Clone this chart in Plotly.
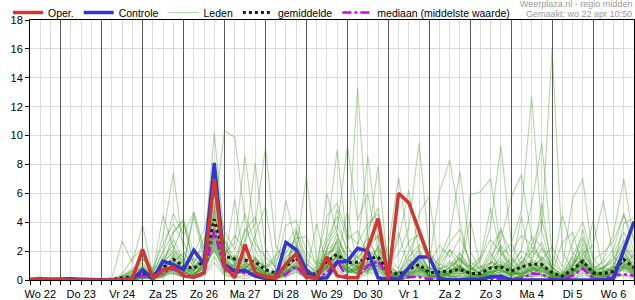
import plotly.graph_objects as go
from datetime import datetime, timedelta

# ---------------- data (6-hourly, from Wo 22 apr 06:00) ----------------
START = datetime(2020, 4, 22, 6)
N_STEPS = 60
DAY_LABELS = ["Wo 22", "Do 23", "Vr 24", "Za 25", "Zo 26", "Ma 27", "Di 28", "Wo 29",
              "Do 30", "Vr 1", "Za 2", "Zo 3", "Ma 4", "Di 5", "Wo 6"]

OPER = [0.05, 0.1, 0.05,
        0, 0, 0, 0,
        0, 0, 0, 0.1,
        2.1, 0.1, 0.7, 0.9,
        0.3, 0.2, 0.5, 7.0,
        1.0, 0.15, 2.45, 0.5,
        0.2, 0.15, 1.1, 1.8,
        0.2, 0.1, 1.6, 0.3,
        0.15, 0.15, 2.2, 4.25,
        0.05, 6.0, 5.35, 3.5,
        1.5]

CONTROLE = [0.02, 0.03, 0.05,
            0.1, 0.08, 0.05, 0.02,
            0, 0, 0, 0.05,
            0.7, 0.05, 1.3, 1.07,
            0.7, 2.06, 1.1, 8.1,
            1.07, 0.6, 0.68, 0.27,
            0.1, 0.15, 2.6, 2.1,
            0.7, 0.1, 0.15, 1.23,
            1.3, 2.2, 2.0, 0.15,
            0.05, 0.05, 0.85, 1.6,
            1.6, 0.1, 0, 0,
            0, 0.05, 0.2, 0.25,
            0, 0, 0, 0,
            0, 0, 0, 0,
            0, 0, 0.1, 2.0,
            4.05]

GEMIDDELDE = [0.03, 0.04, 0.03,
              0.03, 0.03, 0.02, 0.02,
              0.02, 0.05, 0.15, 0.25,
              0.5, 0.3, 0.85, 1.45,
              0.95, 0.8, 1.3, 4.2,
              1.65, 1.45, 1.37, 1.25,
              0.7, 0.5, 0.96, 1.54,
              0.5, 0.38, 1.3, 1.77,
              1.2, 1.23, 1.47, 1.6,
              0.6, 0.38, 0.73, 1.07,
              0.5, 0.54, 0.6, 0.73,
              0.45, 0.45, 0.85, 0.9,
              0.6, 0.9, 1.1, 1.07,
              0.5, 0.27, 0.73, 1.3,
              0.5, 0.45, 0.6, 1.42,
              0.85]

MEDIAAN = [0, 0, 0,
           0, 0, 0, 0,
           0, 0, 0.05, 0.1,
           0.3, 0.1, 0.55, 0.75,
           0.4, 0.2, 0.4, 3.4,
           0.7, 0.6, 0.45, 0.35,
           0.1, 0.15, 0.4, 0.95,
           0.2, 0.1, 0.5, 1.3,
           0.15, 0.2, 1.0, 1.3,
           0.25, 0.05, 0.2, 0.2,
           0.05, 0.05, 0.05, 0.05,
           0.05, 0.05, 0.1, 0.1,
           0.05, 0.1, 0.45, 0.4,
           0.05, 0.05, 0.3, 0.8,
           0.1, 0.05, 0.35, 0.4,
           0.3]

LEDEN = [
    [0,0,0, 0,0,0,0, 0,0.1,2.7,1.2, 3.8,0.3,1.0,0.8, 0.5,0.9,1.4,5.2, 1.5,0.8,1.0,0.6, 0.2,0.1,0.6,1.2, 0.3,0.2,0.9,2.1, 0.5,0.8,1.6,1.9, 0.4,0.1,0.3,0.9, 0.2,0.3,0.5,1.1, 0.3,0.1,0.6,0.5, 0.2,0.8,0.4,0.9, 0.1,0,0.4,1.6, 0.3,0.2,0.5,2.0, 0.6],
    [0,0,0, 0,0,0,0, 0,0,0.3,0.8, 1.2,0.5,3.1,7.4, 2.0,0.9,1.8,6.1, 2.2,1.3,0.7,0.4, 0.1,0.2,0.8,2.0, 0.4,0.1,1.5,3.2, 1.0,1.6,0.8,2.4, 0.2,0,0.2,0.4, 0.1,0.6,0.3,0.2, 0.1,0.2,1.3,0.8, 1.1,0.4,0.2,0.6, 0.3,0.1,0,0.5, 0.2,0.1,0.3,0.8, 0.4],
    [0,0,0, 0,0,0,0, 0,0,0,0.2, 0.6,0.1,0.4,1.1, 0.9,0.6,2.0,10.2, 2.8,1.1,0.5,0.9, 0.6,0.3,1.2,0.7, 0.1,0.2,2.1,2.6, 0.8,0.4,0.6,1.0, 0.3,0.5,1.4,0.8, 0.6,0.2,0.1,0.4, 0.7,1.0,0.5,0.2, 0.1,0.3,0.8,2.2, 0.6,0.2,0.9,3.5, 0.4,0.1,0.2,1.1, 0.9],
    [0,0,0, 0,0,0,0, 0,0,0,0.1, 0.4,0.2,0.8,0.5, 0.2,0.4,1.1,4.6, 10.3,9.9,4.2,1.3, 0.4,0.2,0.3,0.9, 0.2,0,0.5,1.4, 0.6,0.9,2.4,3.1, 0.8,0.3,0.5,1.2, 0.3,0.1,0.4,0.9, 0.4,0.2,0.8,1.5, 0.6,0.3,1.0,0.4, 0.2,0.1,0.6,1.1, 0.3,0.5,0.8,1.6, 0.5],
    [0,0,0, 0,0,0,0, 0,0,0.2,0.5, 1.6,0.4,1.2,2.8, 1.4,0.7,1.0,3.4, 1.8,2.6,8.6,3.0, 0.7,0.4,1.0,1.8, 0.3,0.6,1.9,2.3, 0.9,0.5,1.1,0.7, 0.2,0.1,0.6,1.5, 0.2,0.4,1.2,0.6, 0.2,0.3,0.4,1.0, 0.5,1.6,0.9,0.5, 0.1,0.3,1.4,0.8, 0.2,0.6,1.0,2.4, 0.7],
    [0,0,0, 0,0,0,0, 0,0,0,0, 0.3,0.6,1.5,2.1, 3.9,1.2,2.4,6.8, 1.2,0.9,2.3,8.1, 2.2,0.8,0.4,1.0, 0.5,0.2,0.7,1.6, 1.4,0.6,0.9,1.2, 0.5,0.2,0.1,0.3, 0.1,0.2,0.5,1.3, 0.8,0.4,0.3,0.6, 0.4,0.7,1.3,0.8, 0.3,0.1,0.5,0.9, 0.6,0.4,0.3,0.9, 1.8],
    [0,0,0, 0,0,0,0, 0,0,0.1,0.3, 0.5,0.2,0.6,1.8, 1.1,4.4,1.5,3.0, 1.9,1.2,2.8,3.9, 9.2,2.4,1.1,0.8, 0.2,0.4,1.6,1.1, 0.7,1.8,2.9,1.4, 0.6,0.4,0.9,1.7, 0.5,0.8,0.3,0.1, 0.2,0.5,1.9,0.7, 0.3,0.5,0.6,1.2, 0.4,0.2,0.8,2.5, 0.5,0.3,0.9,0.6, 0.4],
    [0,0,0, 0,0,0,0, 0,0,0,0.4, 0.9,0.1,0.5,0.9, 0.7,0.3,0.9,4.0, 1.3,1.6,0.8,1.4, 0.9,1.7,2.5,1.9, 7.2,1.3,0.8,2.9, 1.7,1.0,0.6,1.8, 0.3,0.1,0.4,0.6, 0.9,0.5,0.2,0.5, 0.1,0.3,0.6,2.3, 0.8,0.2,0.5,0.7, 0.2,0.4,1.6,0.9, 0.2,0.1,0.7,1.2, 0.3],
    [0,0,0, 0,0,0,0, 0,0,0,0.1, 0.2,0.5,0.3,0.7, 0.4,0.8,1.3,2.6, 0.9,0.5,1.8,1.1, 0.3,0.6,1.4,2.7, 0.6,0.9,3.1,9.0, 2.4,1.2,0.8,1.5, 0.4,0.2,1.0,2.2, 0.6,0.3,0.7,1.0, 0.5,0.9,0.2,0.4, 0.3,1.1,2.0,1.4, 0.6,0.3,0.4,1.8, 0.9,0.5,0.3,1.3, 0.6],
    [0,0,0, 0,0,0,0, 0,0,0,0, 0.4,0.1,0.2,1.3, 0.8,0.5,0.7,3.6, 1.0,0.6,0.9,0.5, 0.2,0.1,0.9,3.3, 1.2,0.4,2.2,3.5, 9.3,4.1,6.0,2.0, 0.9,0.5,1.1,0.8, 0.4,0.2,0.9,1.6, 0.5,0.2,0.4,0.8, 1.5,0.6,0.3,0.9, 0.5,0.2,0.7,0.6, 0.4,0.9,1.2,0.8, 1.0],
    [0,0,0, 0,0,0,0, 0,0,0,0.2, 0.3,0.2,0.9,0.6, 0.3,0.2,1.4,4.8, 0.7,0.4,0.6,1.2, 0.5,0.3,0.8,1.5, 0.2,0.1,2.8,4.4, 1.9,13.3,3.0,1.3, 0.3,0.1,0.5,0.7, 0.2,0.1,0.3,0.6, 0.4,0.2,0.3,1.1, 0.6,0.4,0.9,0.3, 0.1,0.2,0.5,1.0, 0.4,0.3,0.6,2.1, 0.8],
    [0,0,0, 0,0,0,0, 0,0,0.1,0.3, 0.7,0.3,1.3,1.9, 1.3,0.6,1.7,3.2, 2.1,1.4,1.0,0.6, 0.3,0.5,1.6,2.2, 0.4,0.3,1.2,2.0, 1.0,2.2,8.6,2.7, 0.5,0.3,0.7,1.3, 0.7,0.9,0.5,0.8, 0.3,0.6,1.2,0.9, 0.2,0.3,0.7,1.6, 0.9,0.4,0.3,0.7, 0.5,0.2,0.4,1.5, 1.2],
    [0,0,0, 0,0,0,0, 0,0,0,0, 0.1,0.2,0.5,1.0, 0.6,0.2,0.6,2.3, 0.5,0.8,0.6,0.4, 0.1,0.2,0.6,1.3, 0.5,0.7,1.1,1.6, 0.8,1.4,2.6,7.9, 0.6,0.2,0.3,0.5, 0.3,0.6,0.4,1.8, 0.9,0.3,0.5,0.7, 0.4,1.3,0.8,0.6, 0.2,0.1,0.9,1.4, 0.7,0.4,0.2,0.9, 0.5],
    [0,0,0, 0,0,0,0, 0,0,0.3,0.6, 1.1,0.4,0.8,1.4, 0.9,1.5,0.8,2.9, 1.6,0.9,1.3,0.8, 0.4,0.3,0.5,0.9, 0.3,0.5,1.0,1.3, 0.6,0.9,1.3,1.1, 2.3,7.1,2.4,1.0, 0.4,0.7,1.3,0.9, 0.5,0.3,0.9,0.6, 0.3,0.5,1.1,0.7, 0.4,0.2,0.6,1.0, 0.3,0.8,1.4,2.6, 1.1],
    [0,0,0, 0,0,0,0, 0,0,0,0.1, 0.2,0.1,0.4,0.8, 0.5,0.4,1.0,3.8, 0.6,0.3,0.7,1.5, 0.9,0.4,0.2,0.7, 0.1,0.3,1.3,1.9, 0.7,0.5,0.9,2.3, 1.1,1.8,3.6,9.5, 2.1,0.6,0.4,0.7, 0.2,0.1,0.3,0.5, 0.7,0.9,0.6,1.3, 0.5,0.3,1.1,2.0, 0.2,0.4,0.6,0.9, 0.7],
    [0,0,0, 0,0,0,0, 0,0,0,0.2, 0.5,0.3,0.4,1.2, 1.9,0.9,1.2,2.0, 0.8,1.1,1.5,0.9, 0.3,0.2,0.9,1.7, 0.6,0.2,0.7,1.1, 0.4,0.8,1.2,0.9, 0.2,0.5,1.9,3.4, 1.2,6.1,8.3,4.0, 0.9,0.4,0.3,0.6, 0.5,0.2,0.4,0.9, 0.3,0.1,0.5,1.1, 0.6,0.3,0.2,0.8, 0.3],
    [0,0,0, 0,0,0,0, 0,0,0,0, 0.2,0.1,0.3,0.9, 0.6,0.2,0.5,2.7, 1.2,0.6,0.4,0.9, 0.2,0.1,0.4,0.8, 0.1,0.2,1.7,2.5, 0.9,0.6,1.0,1.4, 0.3,0.2,0.8,1.6, 0.8,1.5,3.2,7.5, 2.0,0.6,0.5,1.2, 0.7,0.4,0.8,1.0, 0.3,0.2,1.0,2.2, 0.6,0.9,0.5,1.3, 0.8],
    [0,0,0, 0,0,0,0, 0,0,0,0.1, 0.3,0.2,0.7,1.5, 0.8,0.4,1.1,3.1, 1.4,0.7,0.5,1.1, 0.6,0.3,1.1,2.4, 0.3,0.1,0.9,1.8, 1.2,0.7,0.5,1.0, 0.4,0.1,0.5,0.9, 0.3,0.2,0.4,0.6, 5.9,6.1,7.0,2.1, 0.6,0.9,1.4,1.1, 0.4,0.2,0.7,1.2, 0.3,0.5,0.8,1.9, 0.6],
    [0,0,0, 0,0,0,0, 0,0,0.1,0.4, 1.0,0.2,1.6,2.4, 1.2,0.5,0.9,2.2, 0.9,1.7,1.2,0.7, 0.2,0.4,0.8,1.4, 0.5,0.3,1.4,2.7, 1.6,0.8,1.3,0.9, 0.2,0.3,0.6,1.1, 0.5,0.8,1.0,1.9, 0.7,1.3,3.8,9.3, 2.6,1.0,0.6,0.8, 0.2,0.1,0.5,1.3, 0.4,0.2,0.6,1.5, 0.9],
    [0,0,0, 0,0,0,0, 0,0,0,0, 0.1,0.2,0.4,0.6, 0.4,0.7,1.4,3.5, 0.7,0.5,0.9,1.3, 0.4,0.2,0.6,0.9, 0.2,0.4,1.1,1.5, 0.5,1.1,1.7,1.2, 0.3,0.2,0.4,0.7, 0.6,0.4,0.9,1.4, 0.8,0.5,1.6,2.8, 5.7,7.3,2.9,1.1, 0.6,0.2,0.4,0.9, 0.5,0.3,1.1,2.3, 1.4],
    [0,0,0, 0,0,0,0, 0,0,0,0.3, 0.6,0.1,0.5,1.7, 1.0,0.3,0.6,2.4, 1.1,0.8,0.7,0.5, 0.2,0.1,0.5,1.2, 0.4,0.6,1.8,2.2, 0.9,0.4,0.7,1.1, 0.5,0.3,0.8,1.4, 0.4,0.2,0.6,1.0, 0.3,0.4,0.7,1.7, 2.5,4.8,12.7,3.4, 0.7,0.3,0.6,1.5, 0.4,0.6,0.9,1.2, 0.5],
    [0,0,0, 0,0,0,0, 0,0,0,0.1, 0.2,0.4,1.0,1.3, 0.7,1.0,1.6,4.3, 2.4,1.0,0.8,1.6, 0.5,0.3,0.7,1.0, 0.2,0.5,0.8,1.2, 1.3,0.9,0.6,1.5, 0.7,0.4,0.3,0.6, 0.2,0.5,0.8,0.7, 0.4,0.6,0.9,1.3, 0.8,2.1,5.2,9.5, 1.8,0.5,0.3,0.8, 0.6,0.4,0.7,1.1, 0.6],
    [0,0,0, 0,0,0,0, 0,0,0,0, 0.1,0.1,0.3,0.8, 0.5,0.3,0.8,3.3, 0.6,0.4,0.5,0.9, 0.3,0.1,0.4,0.8, 0.1,0.2,0.9,1.7, 0.6,0.5,1.2,1.0, 0.2,0.1,0.4,0.8, 0.3,0.4,0.6,0.9, 0.5,0.3,0.6,1.0, 0.4,0.8,1.9,3.7, 16.0,1.9,0.7,1.1, 0.4,0.2,0.5,1.0, 0.7],
    [0,0,0, 0,0,0,0, 0,0,0.2,0.6, 0.8,0.3,1.1,2.0, 1.6,0.6,1.3,3.7, 1.3,0.7,1.6,1.0, 0.5,0.4,1.3,2.0, 0.4,0.3,1.0,1.6, 0.7,1.3,0.8,1.2, 0.4,0.6,0.5,0.9, 0.3,0.2,0.5,0.4, 0.6,0.2,0.4,0.8, 0.3,0.6,1.0,1.4, 2.3,0.9,5.6,7.0, 1.5,0.6,0.4,1.7, 1.0],
    [0,0,0, 0,0,0,0, 0,0,0,0.2, 0.4,0.2,0.6,1.0, 0.6,0.3,1.0,2.8, 0.9,0.6,1.1,0.8, 0.3,0.2,0.7,1.5, 0.4,0.2,0.8,1.3, 0.5,0.7,1.1,0.8, 0.6,0.3,0.2,0.5, 0.8,0.4,0.3,0.5, 0.2,0.4,0.8,1.1, 0.6,0.3,0.7,0.9, 0.5,0.2,1.0,1.8, 2.4,5.5,1.6,0.9, 0.4],
    [0,0,0, 0,0,0,0, 0,0,0,0, 0.3,0.1,0.2,0.5, 0.3,0.2,0.7,2.1, 0.5,0.4,0.6,0.7, 0.2,0.1,0.5,1.1, 0.3,0.1,0.6,1.4, 0.6,0.4,0.8,0.7, 0.2,0.1,0.3,0.6, 0.1,0.3,0.5,0.8, 0.4,0.2,0.5,0.9, 0.5,0.4,0.6,1.0, 0.3,0.2,0.7,1.3, 0.6,1.4,3.2,7.0, 2.6],
    [0,0,0, 0,0,0,0, 0,0,0,0.1, 0.2,0,0.3,0.5, 0.2,0.1,0.4,1.6, 0.4,0.2,0.3,0.4, 0.1,0,0.2,0.6, 0.1,0,0.4,0.8, 0.2,0.3,0.5,0.6, 0.1,0,0.1,0.3, 0.1,0,0.2,0.3, 0.1,0,0.2,0.4, 0.1,0.2,0.3,0.4, 0.1,0,0.2,0.5, 0.1,0,0.1,0.4, 0.2],
    [0,0,0, 0,0,0,0, 0,0,0.4,1.5, 2.2,0.6,1.9,3.3, 4.2,1.8,3.5,5.9, 3.4,2.1,4.6,2.5, 1.6,0.9,3.8,4.1, 2.0,1.1,4.4,5.3, 3.2,2.5,3.9,4.6, 1.5,0.8,2.7,3.1, 1.1,2.4,1.6,2.9, 1.3,0.7,2.2,3.4, 1.9,3.1,2.4,4.2, 1.2,0.5,2.6,4.0, 1.4,1.9,2.7,4.5, 2.8],
    [0,0,0, 0,0,0,0, 0,0,0,0, 0.1,0.3,0.6,0.4, 0.2,0.1,0.3,1.2, 0.3,0.2,0.1,0.3, 0,0.1,0.3,0.5, 0.2,0.1,0.3,0.6, 0.3,0.2,0.4,0.5, 0.1,0,0.2,0.4, 0.2,0.1,0.1,0.3, 0.2,0.1,0.3,0.2, 0.1,0.3,0.2,0.3, 0.1,0,0.1,0.3, 0.2,0.1,0.2,0.3, 0.1],
    [0,0,0, 0,0,0,0, 0,0,0.1,0.5, 1.4,0.8,2.5,3.9, 2.6,1.1,2.9,4.4, 1.7,3.1,2.0,1.5, 0.8,1.3,2.4,3.6, 1.5,0.7,2.6,3.8, 2.1,1.6,2.3,3.0, 0.9,0.5,1.6,2.4, 1.8,1.0,2.1,1.4, 0.6,1.5,2.8,1.9, 1.1,2.0,1.5,2.6, 0.8,0.4,1.7,3.0, 1.0,0.7,1.8,3.3, 1.6],
    [0,0,0, 0,0,0,0, 0,0,0,0.3, 0.9,0.4,2.0,4.6, 3.1,4.7,2.2,5.4, 2.7,1.5,3.3,4.4, 1.2,0.6,1.9,2.9, 3.0,0.9,2.0,4.9, 2.8,3.4,1.7,2.1, 1.2,0.4,0.9,1.9, 0.7,1.3,2.6,3.5, 1.0,0.5,1.1,2.4, 1.6,0.8,3.0,2.3, 0.9,0.3,1.2,2.8, 0.8,1.2,2.1,4.6, 1.9],
    [0,0,0, 0,0,0,0, 0,0,0,0, 0.3,0.1,0.7,1.1, 0.9,0.4,0.8,2.5, 0.8,0.5,1.2,0.9, 0.4,0.2,0.6,1.0, 0.4,0.3,0.9,1.2, 0.6,0.4,0.7,1.3, 0.5,0.2,0.4,0.7, 0.3,0.2,0.4,0.9, 0.5,0.3,0.6,0.7, 0.4,0.5,0.8,0.6, 0.3,0.1,0.5,0.8, 0.4,0.3,0.5,1.0, 0.5],
    [0,0,0, 0,0,0,0, 0,0,0.2,0.7, 1.5,0.6,4.5,2.2, 1.0,4.7,1.9,3.0, 1.4,0.9,3.6,2.1, 0.8,1.5,5.5,2.4, 1.1,0.6,6.0,3.2, 1.3,0.9,2.0,1.6, 1.0,2.8,6.2,2.0, 0.6,1.1,0.8,1.5, 0.9,1.6,5.0,1.8, 0.7,1.2,2.3,1.5, 0.8,4.5,1.9,1.2, 0.6,0.9,1.5,2.8, 1.4],
    [0,0,0, 0,0,0,0, 0,0,0,0.2, 0.8,0.3,1.0,3.3, 4.1,1.0,0.7,4.9, 1.3,5.6,0.9,3.1, 5.1,0.7,0.6,3.4, 0.5,3.9,0.8,1.3, 4.8,0.6,3.5,5.0, 0.4,3.3,0.8,4.6, 5.8,0.5,2.1,0.7, 4.2,0.9,1.2,3.6, 0.8,4.4,1.0,5.3, 0.5,2.6,3.3,0.9, 4.1,0.6,0.8,3.9, 4.3],
]

# ---------------- time axis ----------------
times = [START + timedelta(hours=6 * k) for k in range(N_STEPS)]
t_end = times[-1]
noons = [datetime(2020, 4, 22, 12) + timedelta(days=d) for d in range(len(DAY_LABELS))]
midnights = [datetime(2020, 4, 23) + timedelta(days=d) for d in range(len(DAY_LABELS))]

FONT = "Liberation Sans, Arial, sans-serif"

fig = go.Figure()

# dark midnight lines come from an overlaid axis grid
fig.add_trace(go.Scatter(x=midnights, y=[None] * len(midnights), xaxis="x2",
                         mode="lines", showlegend=False, hoverinfo="skip"))

for k, member in enumerate(LEDEN):
    fig.add_trace(go.Scatter(
        x=times, y=member, mode="lines", name="Leden",
        showlegend=(k == 0), legendrank=3, hoverinfo="skip",
        line=dict(color="rgba(55,150,25,0.38)", width=1.1)))

fig.add_trace(go.Scatter(x=times, y=MEDIAAN, mode="lines",
                         name="mediaan (middelste waarde)", legendrank=5,
                         line=dict(color="#cc00ff", width=2.5, dash="dashdot")))
fig.add_trace(go.Scatter(x=times, y=GEMIDDELDE, mode="lines", name="gemiddelde",
                         legendrank=4,
                         line=dict(color="#1e1e1e", width=3, dash="dot")))
fig.add_trace(go.Scatter(x=times, y=CONTROLE, mode="lines", name="Controle",
                         legendrank=2, line=dict(color="rgb(52,52,212)", width=3.5)))
fig.add_trace(go.Scatter(x=times[:len(OPER)], y=OPER, mode="lines", name="Oper.",
                         legendrank=1, line=dict(color="rgb(212,52,52)", width=3.5)))

fig.update_layout(
    width=635, height=300,
    margin=dict(l=30, r=1, t=20, b=20, autoexpand=False),
    paper_bgcolor="white", plot_bgcolor="white",
    font=dict(family=FONT, size=11, color="black"),
    showlegend=True,
    legend=dict(orientation="h", xref="container", yref="paper",
                x=8 / 635, y=1 + 22 / 260, xanchor="left", yanchor="top",
                bgcolor="rgba(0,0,0,0)", font=dict(size=10.5),
                traceorder="normal"),
    xaxis=dict(type="date", range=[times[0], t_end],
               tickmode="array", tickvals=noons, ticktext=DAY_LABELS,
               showgrid=False, ticks="outside", ticklen=4, tickcolor="black",
               showline=True, linecolor="black", linewidth=1, mirror=True,
               zeroline=False, tickfont=dict(size=11, color="black"),
               minor=dict(tick0="2020-04-22 00:00", dtick=6 * 3600 * 1000,
                          showgrid=True, gridcolor="#dcdcdc", gridwidth=1,
                          ticks="outside", ticklen=4, tickcolor="black")),
    xaxis2=dict(type="date", overlaying="x", range=[times[0], t_end],
                tickmode="array", tickvals=midnights, showticklabels=False,
                ticks="", showgrid=True, gridcolor="#5a5a5a", gridwidth=1,
                showline=False, zeroline=False),
    yaxis=dict(range=[0, 18], tick0=0, dtick=2, showgrid=True, gridcolor="#dcdcdc",
               ticks="outside", ticklen=4, tickcolor="black",
               showline=True, linecolor="black", linewidth=1, mirror=True,
               zeroline=False, tickfont=dict(size=11, color="black")),
    annotations=[
        dict(text="Weerplaza.nl - regio midden", xref="paper", yref="paper",
             x=1, y=1 + 15.5 / 260, xanchor="right", yanchor="middle", showarrow=False,
             font=dict(size=9, color="#999999", family=FONT)),
        dict(text="Gemaakt: wo 22 apr 10:50", xref="paper", yref="paper",
             x=1, y=1 + 6 / 260, xanchor="right", yanchor="middle", showarrow=False,
             font=dict(size=9, color="#999999", family=FONT)),
    ],
)

fig.write_html("out.html")
